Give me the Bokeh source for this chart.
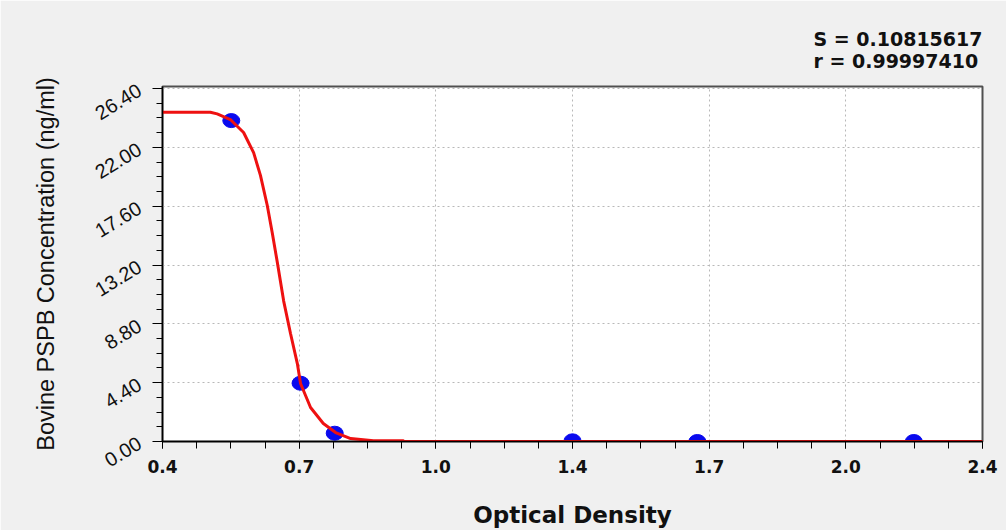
import numpy as np
from bokeh.plotting import figure
from bokeh.models import Range1d, FixedTicker, NumeralTickFormatter, Title
from bokeh.embed import file_html
from bokeh.resources import INLINE

# ---- data ----
TICK_OD = [0.4, 0.7, 1.0, 1.4, 1.7, 2.0, 2.4]
TICK_LABELS = ["0.4", "0.7", "1.0", "1.4", "1.7", "2.0", "2.4"]
Y_TICKS = [0.0, 4.4, 8.8, 13.2, 17.6, 22.0, 26.4]

STD_OD = [0.551, 0.703, 0.778, 1.400, 1.674, 2.199]
STD_CONC = [24.00, 4.36, 0.62, 0.05, 0.00, 0.00]

CURVE_OD = [0.400, 0.505, 0.520, 0.549, 0.578, 0.600, 0.615, 0.630, 0.641, 0.652,
            0.666, 0.681, 0.696, 0.703, 0.725, 0.753, 0.780, 0.813, 0.863, 0.929,
            0.930, 2.400]
CURVE_CONC = [24.63, 24.63, 24.50, 24.08, 23.11, 21.60, 19.90, 17.65, 15.60, 13.40,
              10.50, 8.08, 5.83, 4.34, 2.54, 1.35, 0.67, 0.22, 0.05, 0.05,
              0.00, 0.00]

S_TEXT = "S = 0.10815617"
R_TEXT = "r = 0.99997410"

# the x axis spaces its tick labels evenly: map OD values onto that axis
tick_pos = list(range(len(TICK_OD)))
def od_to_axis(v):
    return np.interp(v, TICK_OD, tick_pos)

p = figure(width=1006, height=530,
           x_range=Range1d(0, len(TICK_OD) - 1), y_range=Range1d(0, 26.55),
           output_backend="svg", toolbar_location=None,
           min_border_left=162, min_border_right=24,
           min_border_top=86, min_border_bottom=89)

p.background_fill_color = "white"
p.border_fill_color = "#f0f0f0"
p.outline_line_color = "#505050"
p.outline_line_width = 2

# axes
p.xaxis.ticker = FixedTicker(ticks=tick_pos,
                             minor_ticks=list(np.arange(0, 6.001, 0.25)))
p.xaxis.major_label_overrides = {i: t for i, t in zip(tick_pos, TICK_LABELS)}
p.yaxis.ticker = FixedTicker(ticks=Y_TICKS,
                             minor_ticks=list(np.arange(0, 26.41, 1.1)))
p.yaxis.formatter = NumeralTickFormatter(format="0.00")

for ax in (p.xaxis[0], p.yaxis[0]):
    ax.axis_line_color = "black"
    ax.axis_line_width = 1.5
    ax.major_tick_line_color = "black"
    ax.minor_tick_line_color = "black"
    ax.major_tick_in = 0
    ax.minor_tick_in = 0

p.xaxis.major_tick_out = 7
p.xaxis.minor_tick_out = 7
p.yaxis.major_tick_out = 10
p.yaxis.minor_tick_out = 6

p.xaxis.major_label_text_font = "DejaVu Sans"
p.xaxis.major_label_text_font_style = "bold"
p.xaxis.major_label_text_font_size = "17px"
p.xaxis.major_label_text_color = "#111111"
p.xaxis.major_label_standoff = 11

p.yaxis.major_label_text_font = "Liberation Sans"
p.yaxis.major_label_text_font_size = "20px"
p.yaxis.major_label_text_color = "#111111"
p.yaxis.major_label_orientation = 0.55
p.yaxis.major_label_standoff = 13

p.xaxis.axis_label = "Optical Density"
p.xaxis.axis_label_text_font = "DejaVu Sans"
p.xaxis.axis_label_text_font_style = "bold"
p.xaxis.axis_label_text_font_size = "23px"
p.xaxis.axis_label_text_color = "#111111"
p.xaxis.axis_label_standoff = 26

p.yaxis.axis_label = "Bovine PSPB Concentration (ng/ml)"
p.yaxis.axis_label_text_font = "Liberation Sans"
p.yaxis.axis_label_text_font_style = "normal"
p.yaxis.axis_label_text_font_size = "23.5px"
p.yaxis.axis_label_text_color = "#111111"
p.yaxis.axis_label_standoff = 28

# grid
p.xgrid.ticker = FixedTicker(ticks=tick_pos[1:-1])
p.ygrid.ticker = FixedTicker(ticks=Y_TICKS[1:])
for g in (p.xgrid[0], p.ygrid[0]):
    g.grid_line_color = "#b8b8b8"
    g.grid_line_dash = "2 3"
    g.grid_line_width = 1

# standards and fitted curve
p.ellipse(x=od_to_axis(STD_OD), y=STD_CONC, width=17, height=14,
          width_units="screen", height_units="screen",
          fill_color="#0a0aee", line_color="#0a0aee")
p.line(x=od_to_axis(CURVE_OD), y=CURVE_CONC, line_color="#ee1111", line_width=3)

# fit statistics, right-aligned above the frame
p.add_layout(Title(text=S_TEXT + "\n" + R_TEXT, align="right", standoff=30,
                   text_font="DejaVu Sans", text_font_style="bold",
                   text_font_size="19px", text_color="#111111",
                   text_line_height=1.0), "above")

open("out.html", "w").write(file_html(p, INLINE))
